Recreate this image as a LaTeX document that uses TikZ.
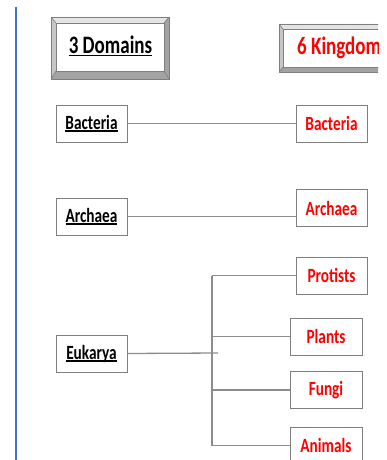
\documentclass[tikz,border=0pt]{standalone}
\usepackage{graphicx}
\usepackage{fontspec}
\setmainfont{Carlito}
\definecolor{kred}{HTML}{FF0000}
\definecolor{edge}{HTML}{7F7F7F}
\definecolor{link}{HTML}{8C8C8C}
\definecolor{bar}{HTML}{4472C4}
\definecolor{bvlight}{HTML}{E4E4E4}
\definecolor{bvmid}{HTML}{C6C6C6}
\definecolor{bvdark}{HTML}{A3A3A3}
\newcommand\myul[1]{\setbox0\hbox{#1}\rlap{\rule[-2.2pt]{\wd0}{1.2pt}}\box0}
\newcommand\sq[1]{\scalebox{1}[1.32]{#1}}
\tikzset{
  box/.style={draw=edge, line width=1pt, fill=white, minimum width=71pt, minimum height=37pt, inner sep=0pt,
    font=\fontsize{15.3}{18}\selectfont\bfseries},
  dom/.style={box, text=black},
  king/.style={box, text=kred},
  link/.style={draw=link, line width=1.3pt},
  bevel/.style={draw=edge, line width=0.6pt},
  title/.style={inner sep=0pt, font=\fontsize{19}{22}\selectfont\bfseries}
}
\begin{document}
\begin{tikzpicture}[x=1pt,y=-1pt]
\useasboundingbox (0,0) rectangle (387,460);
\clip (0,0) rectangle (378,460);
% blue bar
\draw[bar, line width=2pt] (16,7) -- (16,462);
% 3 Domains bevel
\fill[bvlight] (51,17)--(169,17)--(164,23)--(56,23)--cycle;
\fill[bvmid] (51,17)--(56,23)--(56,71)--(51,79)--cycle;
\fill[bvdark] (51,79)--(56,71)--(164,71)--(169,79)--cycle;
\fill[bvdark] (169,17)--(164,23)--(164,71)--(169,79)--cycle;
\draw[bevel, fill=white] (56,23) rectangle (164,71);
\draw[bevel] (51,17)--(56,23) (169,17)--(164,23) (51,79)--(56,71) (169,79)--(164,71);
\draw[bevel, line width=0.9pt] (51,17) rectangle (169,79);
\node[title] (t3) at (110.5,46) {\sq{\myul{3 Domains}}};
% 6 Kingdoms bevel
\fill[bvlight] (279,24)--(400,24)--(396,29)--(283,29)--cycle;
\fill[bvmid] (279,24)--(283,29)--(283,67)--(279,72)--cycle;
\fill[bvdark] (279,72)--(283,67)--(396,67)--(400,72)--cycle;
\draw[bevel, fill=white] (283,29) rectangle (396,67);
\draw[bevel] (279,24)--(283,29) (279,72)--(283,67);
\draw[bevel, line width=0.9pt] (279,24) rectangle (400,72);
\node[title, text=kred, anchor=west] (t6) at (297,48) {\sq{6 Kingdoms}};
% domain boxes
\node[dom] (dB) at (91.5,123.5) {\sq{\myul{Bacteria}}};
\node[dom] (dA) at (91.5,216.5) {\sq{\myul{Archaea}}};
\node[dom] (dE) at (91.5,353.5) {\sq{\myul{Eukarya}}};
% kingdom boxes
\node[king] (kB) at (331.5,123.5) {\sq{Bacteria}};
\node[king] (kA) at (331.5,208) {\sq{Archaea}};
\node[king] (kP) at (331.5,275.5) {\sq{Protists}};
\node[king, minimum width=72pt] (kPl) at (326,336.5) {\sq{Plants}};
\node[king, minimum width=72pt] (kF) at (326,390) {\sq{Fungi}};
\node[king, minimum width=72pt] (kAn) at (326,445.5) {\sq{Animals}};
% connectors
\coordinate (trunk) at (212,353);
\coordinate (stub) at (218,353);
\draw[link] (dB.east) -- (dB.east -| kB.west);
\draw[link] (dA.east) -- (dA.east -| kA.west);
\draw[link] (dE.east) -- (stub);
\draw[link] (kP.west -| trunk) -- (kAn.west -| trunk);
\draw[link] (kP.west -| trunk) -- (kP.west);
\draw[link] (kPl.west -| trunk) -- (kPl.west);
\draw[link] (kF.west -| trunk) -- (kF.west);
\draw[link] (kAn.west -| trunk) -- (kAn.west);
\end{tikzpicture}
\end{document}
